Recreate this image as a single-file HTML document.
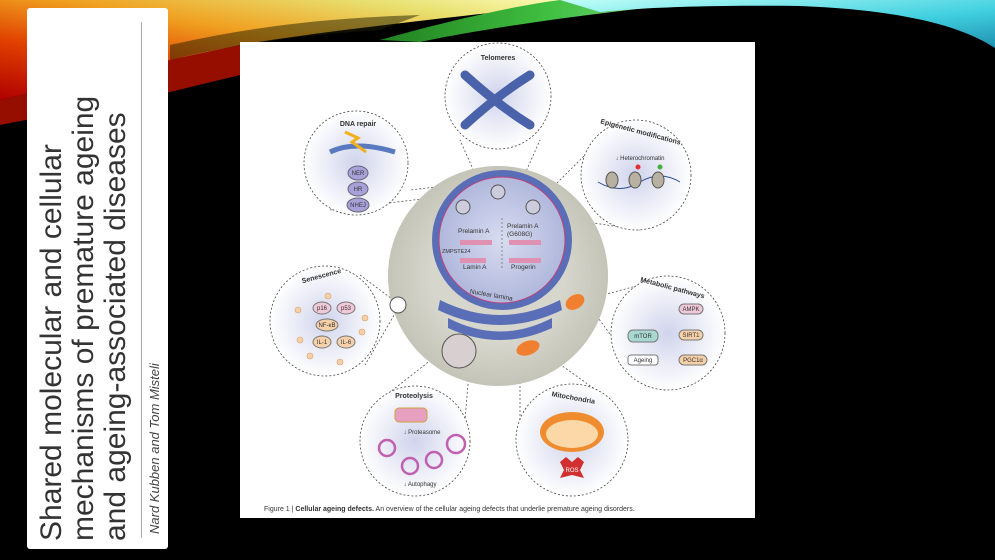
<!DOCTYPE html>
<html><head><meta charset="utf-8"><style>
html,body{margin:0;padding:0;background:#000;width:995px;height:560px;overflow:hidden;font-family:"Liberation Sans",sans-serif}
#bg{position:absolute;left:0;top:0}
#panel{position:absolute;left:27px;top:8px;width:141px;height:541px;background:#fff;border-radius:3px}
#vline{position:absolute;left:114px;top:14px;width:1px;height:516px;background:#aaa}
#title{position:absolute;left:36px;top:541px;transform-origin:0 0;transform:rotate(-90deg);font-size:30px;line-height:32px;color:#333;white-space:nowrap}
#auth{position:absolute;left:147px;top:534px;transform-origin:0 0;transform:rotate(-90deg);font-size:13px;font-style:italic;color:#444;white-space:nowrap}
#fig{position:absolute;left:240px;top:42px;width:515px;height:476px;background:#fff}
</style></head><body>
<svg id="bg" width="995" height="560">
<defs>
<linearGradient id="g1" x1="0" y1="1" x2="1" y2="0">
<stop offset="0" stop-color="#b00000"/><stop offset="0.3" stop-color="#e04000"/><stop offset="0.55" stop-color="#f0a020"/><stop offset="0.8" stop-color="#e8e070"/><stop offset="1" stop-color="#ffffc0"/></linearGradient>
<linearGradient id="g2" x1="0" y1="0" x2="1" y2="0">
<stop offset="0" stop-color="#208020"/><stop offset="0.5" stop-color="#40c040"/><stop offset="1" stop-color="#90e0a0"/></linearGradient>
<linearGradient id="g3" x1="0" y1="0" x2="1" y2="1">
<stop offset="0" stop-color="#c0fff8"/><stop offset="0.6" stop-color="#40d0e0"/><stop offset="1" stop-color="#2090b0"/></linearGradient>
</defs>
<path d="M0,0 L600,0 C480,15 340,28 240,45 L170,60 L0,100 Z" fill="url(#g1)"/>
<path d="M0,100 L170,60 L240,45 L240,75 L170,92 L0,125 Z" fill="#b01000" opacity="0.85"/>
<path d="M380,40 C450,20 520,5 560,0 L720,0 C620,10 500,25 420,42 Z" fill="url(#g2)"/>
<path d="M170,45 C260,25 330,18 420,15 L380,30 C300,35 230,45 170,60Z" fill="#202000" opacity="0.5"/>
<path d="M560,0 L995,0 L995,48 C960,25 900,10 800,6 C700,5 640,8 600,12 Z" fill="url(#g3)"/>
</svg>
<div id="panel"><div id="vline"></div></div>
<div id="title">Shared molecular and cellular<br>mechanisms of premature ageing<br>and ageing-associated diseases</div>
<div id="auth">Nard Kubben and Tom Misteli</div>
<div id="fig">
<svg width="515" height="476" viewBox="240 42 515 476" font-family="Liberation Sans,sans-serif">
<defs>
<radialGradient id="sat" cx="0.5" cy="0.5" r="0.5"><stop offset="0" stop-color="#d0d4ec"/><stop offset="1" stop-color="#fff"/></radialGradient>
<radialGradient id="cell"><stop offset="0.6" stop-color="#d6d6cc"/><stop offset="1" stop-color="#c4c4b8"/></radialGradient>
<radialGradient id="nuc"><stop offset="0" stop-color="#d8dcf0"/><stop offset="1" stop-color="#b0b8dc"/></radialGradient>
</defs>
<g stroke="#555" stroke-width="0.8" stroke-dasharray="2,2" fill="none">
<line x1="453" y1="185" x2="410" y2="190"/><line x1="455" y1="195" x2="330" y2="210"/>
<line x1="480" y1="185" x2="460" y2="140"/><line x1="520" y1="185" x2="540" y2="140"/>
<line x1="540" y1="200" x2="600" y2="140"/><line x1="540" y1="215" x2="640" y2="230"/>
<line x1="400" y1="305" x2="360" y2="275"/><line x1="400" y1="305" x2="365" y2="365"/>
<line x1="585" y1="300" x2="640" y2="285"/><line x1="585" y1="300" x2="640" y2="375"/>
<line x1="450" y1="345" x2="380" y2="400"/><line x1="470" y1="360" x2="465" y2="420"/>
<line x1="520" y1="350" x2="520" y2="420"/><line x1="540" y1="350" x2="610" y2="400"/>
</g>
<circle cx="498" cy="276" r="110" fill="url(#cell)"/>
<g fill="#5a6eb8">
<path d="M440,300 Q500,330 560,300 L562,310 Q500,340 438,310Z"/>
<path d="M448,318 Q500,345 552,318 L552,328 Q500,352 448,328Z"/>
</g>
<circle cx="502" cy="240" r="70" fill="#5a6eb8"/>
<circle cx="502" cy="240" r="63" fill="url(#nuc)" stroke="#c0407a" stroke-width="1"/>
<g fill="none" stroke="#555" stroke-width="1"><circle cx="463" cy="207" r="7" fill="#ccd"/><circle cx="498" cy="192" r="7" fill="#ccd"/><circle cx="533" cy="207" r="7" fill="#ccd"/></g>
<line x1="502" y1="218" x2="502" y2="268" stroke="#555" stroke-dasharray="2,2" stroke-width="0.6"/>
<g font-size="6.5" fill="#333">
<text x="458" y="233">Prelamin A</text><text x="507" y="228">Prelamin A</text><text x="507" y="236">(G608G)</text>
<text x="442" y="253" font-size="5.5">ZMPSTE24</text><text x="463" y="269">Lamin A</text><text x="511" y="269">Progerin</text>
<text x="470" y="295" transform="rotate(10 480 292)">Nuclear lamina</text></g>
<g fill="#e090b0"><rect x="460" y="240" width="32" height="5"/><rect x="509" y="240" width="32" height="5"/><rect x="460" y="258" width="26" height="5"/><rect x="509" y="258" width="32" height="5"/></g>
<ellipse cx="575" cy="302" rx="10" ry="7" fill="#f08030" transform="rotate(-30 575 302)"/>
<ellipse cx="528" cy="348" rx="12" ry="7" fill="#f08030" transform="rotate(-20 528 348)"/>
<circle cx="459" cy="351" r="17" fill="#d8d0d0" stroke="#555"/>
<circle cx="398" cy="305" r="8" fill="#fff" stroke="#555"/>
<g stroke="#444" stroke-width="0.8" stroke-dasharray="2,2" fill="url(#sat)">
<circle cx="498" cy="96" r="53"/><circle cx="356" cy="163" r="52"/><circle cx="636" cy="175" r="55"/>
<circle cx="325" cy="321" r="55"/><circle cx="668" cy="333" r="57"/><circle cx="415" cy="441" r="55"/><circle cx="572" cy="440" r="56"/>
</g>
<g font-size="7" font-weight="bold" fill="#333" text-anchor="middle">
<text x="498" y="60">Telomeres</text><text x="358" y="126">DNA repair</text>
<text x="640" y="134" transform="rotate(15 640 134)">Epigenetic modifications</text>
<text x="322" y="278" transform="rotate(-15 322 278)">Senescence</text>
<text x="672" y="290" transform="rotate(15 672 290)">Metabolic pathways</text>
<text x="414" y="398">Proteolysis</text><text x="573" y="400" transform="rotate(10 573 400)">Mitochondria</text></g>
<path d="M465,75 Q498,105 530,125 M465,125 Q498,95 530,75" stroke="#4a62aa" stroke-width="9" fill="none" stroke-linecap="round"/>
<path d="M330,152 Q355,140 395,152" stroke="#5a7ac0" stroke-width="5" fill="none"/>
<path d="M345,132 L358,138 L352,142 L366,152" stroke="#f0b020" stroke-width="3" fill="none"/>
<g fill="#a8a0d8" stroke="#667"><ellipse cx="358" cy="173" rx="10" ry="7"/><ellipse cx="358" cy="189" rx="10" ry="7"/><ellipse cx="358" cy="205" rx="11" ry="7"/></g>
<g font-size="6" fill="#333" text-anchor="middle"><text x="358" y="175">NER</text><text x="358" y="191">HR</text><text x="358" y="207">NHEJ</text>
<text x="640" y="160">↓ Heterochromatin</text>
<text x="422" y="434">↓ Proteasome</text><text x="420" y="486">↓ Autophagy</text></g>
<path d="M598,182 Q620,195 640,182 Q660,170 680,182" stroke="#2a4a90" fill="none"/>
<g fill="#b8b0a0" stroke="#555"><ellipse cx="612" cy="180" rx="6" ry="8"/><ellipse cx="635" cy="180" rx="6" ry="8"/><ellipse cx="658" cy="180" rx="6" ry="8"/></g>
<circle cx="638" cy="167" r="2.5" fill="#e03030"/><circle cx="660" cy="167" r="2.5" fill="#40b040"/>
<g stroke="#777" font-size="6" text-anchor="middle"><ellipse cx="322" cy="308" rx="9" ry="6" fill="#f0c8d8"/><ellipse cx="346" cy="308" rx="9" ry="6" fill="#f0c8d8"/><ellipse cx="327" cy="325" rx="11" ry="6" fill="#f6d0a8"/><ellipse cx="322" cy="342" rx="9" ry="6" fill="#f6d0a8"/><ellipse cx="346" cy="342" rx="9" ry="6" fill="#f6d0a8"/></g>
<g fill="#f6d0a8" stroke="#d8a070" stroke-width="0.6"><circle cx="298" cy="310" r="3"/><circle cx="300" cy="340" r="3"/><circle cx="365" cy="318" r="3"/><circle cx="362" cy="332" r="3"/><circle cx="310" cy="356" r="3"/><circle cx="340" cy="362" r="3"/><circle cx="328" cy="296" r="3"/></g>
<g font-size="6" fill="#333" text-anchor="middle"><text x="322" y="310">p16</text><text x="346" y="310">p53</text><text x="327" y="327">NF-κB</text><text x="322" y="344">IL-1</text><text x="346" y="344">IL-6</text></g>
<g stroke="#777" fill="#f6d0a8"><rect x="679" y="304" width="24" height="10" rx="5" fill="#f0c8d8"/><rect x="679" y="330" width="24" height="10" rx="5"/><rect x="679" y="355" width="28" height="10" rx="5"/><rect x="628" y="330" width="30" height="12" rx="5" fill="#a8d8d0"/><rect x="628" y="355" width="30" height="10" rx="3" fill="#fff"/></g>
<g font-size="6" fill="#333" text-anchor="middle"><text x="691" y="311">AMPK</text><text x="691" y="337">SIRT1</text><text x="693" y="362">PGC1α</text><text x="643" y="338">mTOR</text><text x="643" y="362">Ageing</text></g>
<rect x="395" y="408" width="32" height="14" rx="4" fill="#e8a0c0" stroke="#d0a040"/>
<g fill="none" stroke="#c060b0" stroke-width="2.5"><circle cx="387" cy="448" r="8"/><circle cx="410" cy="466" r="8"/><circle cx="434" cy="460" r="8"/><circle cx="456" cy="444" r="9"/></g>
<ellipse cx="572" cy="432" rx="32" ry="20" fill="#f08c30"/>
<ellipse cx="572" cy="434" rx="26" ry="14" fill="#fcd8a8"/>
<polygon points="560,462 566,457 572,462 578,457 584,462 580,470 584,478 572,475 560,478 564,470" fill="#d03030"/>
<text x="572" y="472" font-size="6" fill="#fff" text-anchor="middle">ROS</text>
<text x="264" y="511" font-size="7" fill="#333">Figure 1 | <tspan font-weight="bold">Cellular ageing defects.</tspan> An overview of the cellular ageing defects that underlie premature ageing disorders.</text>
</svg></div>
</body></html>
